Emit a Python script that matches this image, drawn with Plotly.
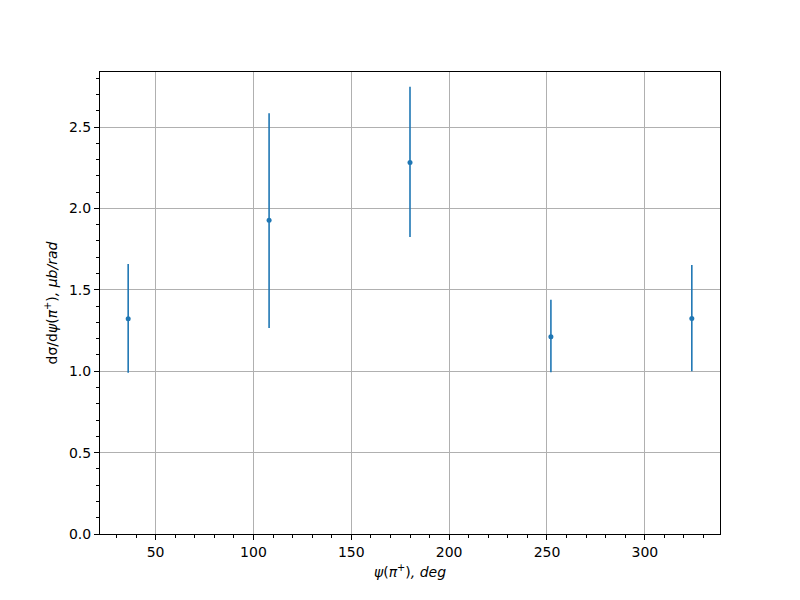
import plotly.graph_objects as go

psi_deg = [36, 108, 180, 252, 324]
dsigma = [1.322, 1.928, 2.282, 1.212, 1.324]
err_plus = [0.337, 0.656, 0.465, 0.227, 0.328]
err_minus = [0.332, 0.663, 0.458, 0.218, 0.324]

x_ticks = [50, 100, 150, 200, 250, 300]
y_ticks = [0.0, 0.5, 1.0, 1.5, 2.0, 2.5]

blue = "#1f77b4"
font = "DejaVu Sans"

fig = go.Figure()
fig.add_trace(go.Scatter(
    x=psi_deg, y=dsigma, mode="markers",
    marker=dict(color=blue, size=5),
    error_y=dict(type="data", array=err_plus, arrayminus=err_minus,
                 symmetric=False, color=blue, thickness=1.6, width=0),
    showlegend=False,
))

axis_common = dict(
    showline=True, linecolor="black", linewidth=1, mirror=True,
    ticks="outside", ticklen=5, tickwidth=1, tickcolor="black",
    showgrid=True, gridcolor="#b0b0b0", gridwidth=0.8,
    zeroline=False, automargin=False,
    tickfont=dict(family=font, size=14, color="black"),
)

fig.update_layout(
    width=800, height=600,
    paper_bgcolor="white", plot_bgcolor="white",
    margin=dict(l=100, r=80, t=72, b=66),
    font=dict(family=font, color="black"),
    xaxis=dict(
        range=[21.6, 338.4], tickvals=x_ticks,
        minor=dict(dtick=10, tick0=0, ticks="outside", ticklen=3, tickcolor="black", showgrid=False),
        title=dict(text="<i>ψ</i>(<i>π</i><sup>+</sup>)<i>, deg</i>", font=dict(family=font, size=14), standoff=8),
        **axis_common,
    ),
    yaxis=dict(
        range=[0, 2.838], tickvals=y_ticks, tickformat=".1f",
        minor=dict(dtick=0.1, tick0=0, ticks="outside", ticklen=3, tickcolor="black", showgrid=False),
        title=dict(text="dσ/d<i>ψ</i>(<i>π</i><sup>+</sup>)<i>, μb/rad</i>", font=dict(family=font, size=14), standoff=8),
        **axis_common,
    ),
)

fig.write_html("out.html", config={"displayModeBar": False},
               post_script="document.body.style.margin='0';document.body.style.padding='0';")
